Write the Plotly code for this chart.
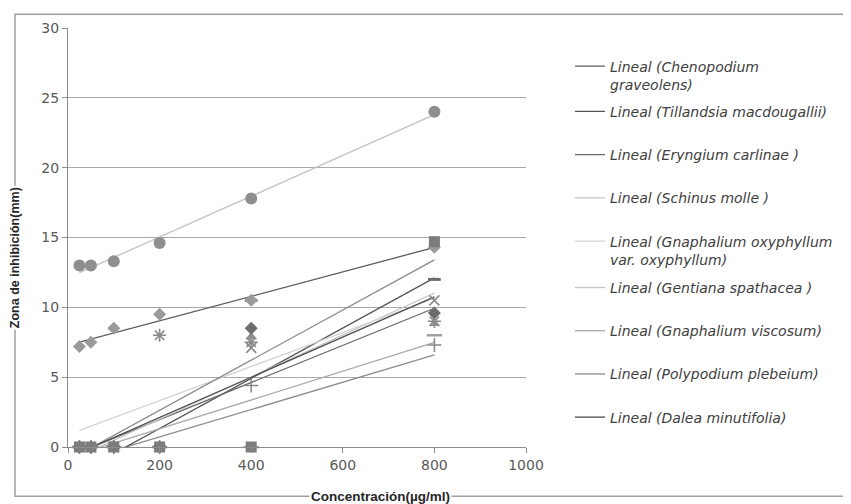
import numpy as np
import plotly.graph_objects as go

# ---- data ----
concentracion = [25, 50, 100, 200, 400, 800]

chenopodium = [7.2, 7.5, 8.5, 9.5, 10.5, 14.3]
tillandsia = [0, 0, 0, 0, 0, 14.7]
eryngium = [0, 0, 0, 0, 7.9, 8.85]
schinus = [0, 0, 0, 0, 7.1, 10.5]
gnaph_oxy = [0, 0, 0, 8.0, 7.5, 9.0]
gentiana = [13.0, 13.0, 13.3, 14.6, 17.8, 24.0]
gnaph_visc = [0, 0, 0, 0, 4.4, 7.3]
polypodium = [0, 0, 0, 0, 10.5, 12.0]
dalea = [0, 0, 0, 0, 8.5, 9.6]
extra_series = [0, 0, 0, 0, 0, 8.0]

legend_names = [
    "Lineal (Chenopodium<br>graveolens)",
    "Lineal (Tillandsia macdougallii)",
    "Lineal (Eryngium carlinae )",
    "Lineal (Schinus molle )",
    "Lineal (Gnaphalium oxyphyllum<br>var. oxyphyllum)",
    "Lineal (Gentiana spathacea )",
    "Lineal (Gnaphalium viscosum)",
    "Lineal (Polypodium plebeium)",
    "Lineal (Dalea minutifolia)",
]

x_ticks = [0, 200, 400, 600, 800, 1000]
y_ticks = [0, 5, 10, 15, 20, 25, 30]

# ---- styles ----
series = [
    # values, trend colour, marker symbol, marker colour, size, legend id
    (chenopodium, "#5c5c5c", "diamond", "#9a9a9a", 10, "legend"),
    (tillandsia, "#555555", "square", "#7c7c7c", 11, "legend2"),
    (eryngium, "#6a6a6a", "triangle-up", "#8e8e8e", 10, "legend2"),
    (schinus, "#c6c6c6", "x-thin", "#8a8a8a", 10, "legend2"),
    (gnaph_oxy, "#d4d4d4", "asterisk-open", "#8a8a8a", 11, "legend2"),
    (gentiana, "#c2c2c2", "circle", "#8e8e8e", 12, "legend3"),
    (gnaph_visc, "#aaaaaa", "cross-thin", "#8a8a8a", 10, "legend3"),
    (polypodium, "#8a8a8a", "line-ew", "#6a6a6a", 9, "legend3"),
    (dalea, "#4e4e4e", "diamond", "#6c6c6c", 10, "legend3"),
]

fig = go.Figure()


def trend(xs, ys):
    m, b = np.polyfit(xs, ys, 1)
    xx = np.array([xs[0], xs[-1]], dtype=float)
    return xx, m * xx + b


# extra unlabeled trend
xx, yy = trend(concentracion, extra_series)
fig.add_trace(go.Scatter(x=xx, y=yy, mode="lines", showlegend=False,
                         line=dict(color="#8c8c8c", width=1.3), hoverinfo="skip"))

for i, (vals, tcol, sym, mcol, msz, leg) in enumerate(series):
    xx, yy = trend(concentracion, vals)
    fig.add_trace(go.Scatter(
        x=xx, y=yy, mode="lines", name=legend_names[i],
        legend=leg, legendgroup="g%d" % i,
        line=dict(color=tcol, width=1.3),
    ))

# markers (drawn above trend lines, squares on top)
fig.add_trace(go.Scatter(x=concentracion, y=extra_series, mode="markers",
                         showlegend=False, cliponaxis=False,
                         marker=dict(symbol="line-ew", size=11, color="#a0a0a0",
                                     line=dict(color="#a0a0a0", width=2.5))))
order = [6, 7, 4, 3, 2, 8, 0, 5, 1]
for i in order:
    vals, tcol, sym, mcol, msz, leg = series[i]
    if sym in ("x-thin", "asterisk-open", "cross-thin", "line-ew"):
        mk = dict(symbol=sym, size=msz, color=mcol,
                  line=dict(color=mcol, width=3 if sym == "line-ew" else 1.6))
    else:
        mk = dict(symbol=sym, size=msz, color=mcol, line=dict(width=0))
    fig.add_trace(go.Scatter(x=concentracion, y=vals, mode="markers",
                             showlegend=False, cliponaxis=False, marker=mk))

# ---- layout ----
# the page body adds an 8px offset; the figure is sized to fit the window
OFF = 8
W, H = 851 - OFF, 504 - OFF
L, T = 68 - OFF, 21 - OFF
R = W - (526 - OFF)
B = H - (447 - OFF)
pw, ph = W - L - R, H - T - B


def px(xp):  # window pixel -> paper x
    return (xp - OFF - L) / pw


def py(yp):  # window pixel -> paper y
    return (H - B - (yp - OFF)) / ph


tick_font = dict(family="DejaVu Sans", size=14, color="#595959")
leg_font = dict(family="DejaVu Sans", size=14, color="#404040", style="italic")

legend_common = dict(font=leg_font, bgcolor="rgba(0,0,0,0)", borderwidth=0,
                     xanchor="left", yanchor="top", valign="top",
                     tracegroupgap=22, itemwidth=30)

fig.update_layout(
    width=W, height=H,
    margin=dict(l=L, r=R, t=T, b=B),
    paper_bgcolor="white", plot_bgcolor="white",
    xaxis=dict(range=[0, 1000], tickvals=x_ticks, showgrid=False,
               showline=True, linecolor="#8c8c8c", linewidth=1,
               ticks="outside", ticklen=5, tickcolor="#8c8c8c",
               tickfont=tick_font, zeroline=False, layer="above traces"),
    yaxis=dict(range=[0, 30], tickvals=y_ticks, showgrid=True,
               gridcolor="#a8a8a8", gridwidth=1,
               showline=True, linecolor="#8c8c8c", linewidth=1,
               ticks="outside", ticklen=5, tickcolor="#8c8c8c",
               tickfont=tick_font, zeroline=False),
    legend=dict(x=px(570), y=py(44), **legend_common),
    legend2=dict(x=px(570), y=py(90), **legend_common),
    legend3=dict(x=px(570), y=py(269), **legend_common),
    shapes=[dict(type="rect", xref="paper", yref="paper",
                 x0=px(15), x1=px(849), y0=py(497), y1=py(7),
                 line=dict(color="#a0a0a0", width=1.5), layer="below")],
    annotations=[
        dict(text="Concentración(µg/ml)", xref="paper", yref="paper",
             x=px(380), y=py(497), showarrow=False, bgcolor="white",
             font=dict(family="Liberation Sans", size=13.5, color="#262626",
                       weight="bold"), xanchor="center", yanchor="middle"),
        dict(text="Zona de inhibición(mm)", xref="paper", yref="paper",
             x=px(15), y=py(255), showarrow=False, bgcolor="white",
             textangle=-90,
             font=dict(family="Liberation Sans", size=12.5, color="#262626",
                       weight="bold"), xanchor="center", yanchor="middle"),
    ],
)

fig.write_html("out.html")
